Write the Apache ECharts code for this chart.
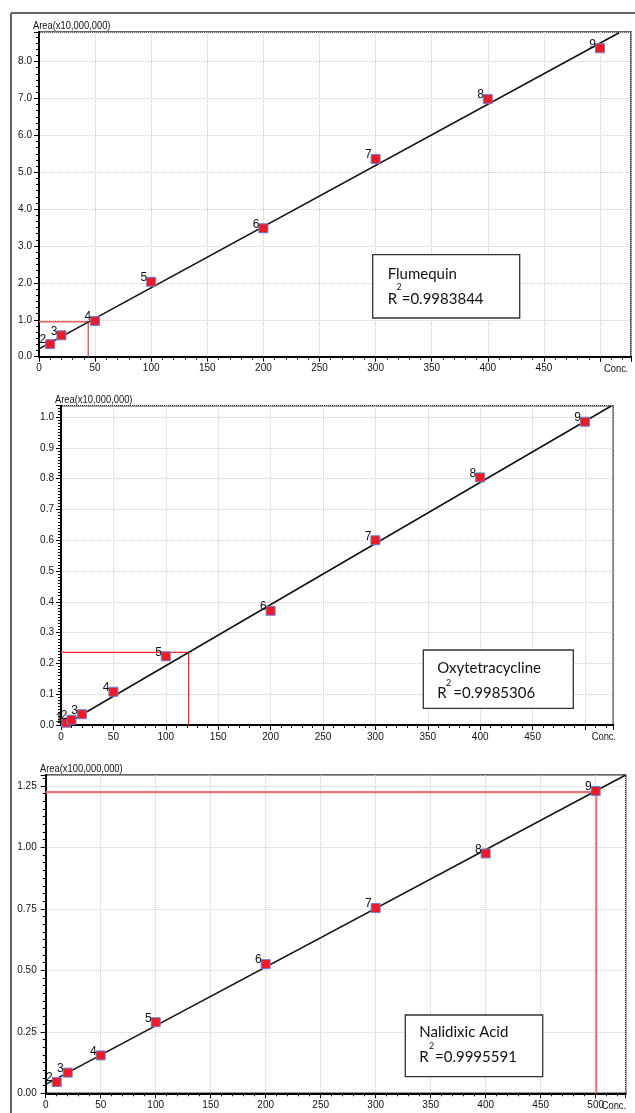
<!DOCTYPE html>
<html><head><meta charset="utf-8">
<script src="https://cdn.jsdelivr.net/npm/echarts@6/dist/echarts.min.js"></script>
<style>html,body{margin:0;padding:0;background:#fff}#c{width:635px;height:1113px}</style>
</head><body><div id="c"></div>
<script>
// ---- data ----
const conc1 = [10, 20, 50, 100, 200, 300, 400, 500];
const area1 = [0.34, 0.58, 0.97, 2.03, 3.48, 5.36, 6.98, 8.36];
const lab1 = ['2', '3', '4', '5', '6', '7', '8', '9'];
const fit1 = [[0, 0.21], [517, 8.78]];
const ref1 = [43.9, 0.95];

const conc2 = [5, 10, 20, 50, 100, 200, 300, 400, 500];
const area2 = [0.0075, 0.017, 0.035, 0.108, 0.223, 0.371, 0.600, 0.804, 0.985];
const lab2 = ['1', '2', '3', '4', '5', '6', '7', '8', '9'];
const fit2 = [[3, 0.0], [525, 1.036]];
const ref2 = [121.8, 0.236];

const conc3 = [10, 20, 50, 100, 200, 300, 400, 500];
const area3 = [0.046, 0.084, 0.154, 0.289, 0.525, 0.753, 0.975, 1.229];
const lab3 = ['2', '3', '4', '5', '6', '7', '8', '9'];
const fit3 = [[0, 0.036], [527.3, 1.294]];
const ref3 = [500.6, 1.224];

const xTicks12 = [0, 50, 100, 150, 200, 250, 300, 350, 400, 450];
const xTicks3 = [0, 50, 100, 150, 200, 250, 300, 350, 400, 450, 500];
const names = ['Flumequin', 'Oxytetracycline', 'Nalidixic Acid'];
const r2 = ['0.9983844', '0.9985306', '0.9995591'];
const yTitles = ['Area(x10,000,000)', 'Area(x10,000,000)', 'Area(x100,000,000)'];
const xName = 'Conc.';

// ---- chart ----
const SANS = '"Liberation Sans",Arial,sans-serif';
const chart = echarts.init(document.getElementById('c'), null, {renderer: 'canvas'});

const grids = [
  {left: 39, top: 32, width: 592, height: 324.7},
  {left: 61, top: 405.7, width: 552.3, height: 319.3},
  {left: 45.7, top: 775, width: 580, height: 318.3}
].map(g => Object.assign(g, {show: true, borderColor: '#333', borderWidth: 1.5, backgroundColor: 'transparent', containLabel: false}));

function xAx(i, max, ticks, margin) {
  return {
    type: 'value', gridIndex: i, min: 0, max: max, interval: 50,
    axisLine: {show: true, onZero: false, lineStyle: {color: '#000', width: 2}},
    axisTick: {show: true, length: 5, lineStyle: {color: '#000', width: 1}},
    minorTick: {show: true, splitNumber: 5, length: 3, lineStyle: {color: '#000', width: 1}},
    splitLine: {show: true, lineStyle: {color: '#cdcdcd', type: 'dotted', width: 1}},
    axisLabel: {margin: margin, fontSize: 10, color: '#111', fontFamily: SANS, showMaxLabel: false,
      formatter: v => ticks.indexOf(Math.round(v)) >= 0 && Math.abs(v - Math.round(v)) < 1e-6 ? String(Math.round(v)) : ''}
  };
}
function yAx(i, max, interval, dec, minorSplit, margin) {
  return {
    type: 'value', gridIndex: i, min: 0, max: max, interval: interval,
    axisLine: {show: true, onZero: false, lineStyle: {color: '#000', width: 2}},
    axisTick: {show: true, length: 5, lineStyle: {color: '#000', width: 1}},
    minorTick: {show: true, splitNumber: minorSplit, length: 3, lineStyle: {color: '#000', width: 1}},
    splitLine: {show: true, lineStyle: {color: '#cdcdcd', type: 'dotted', width: 1}},
    axisLabel: {margin: margin, fontSize: 10, color: '#111', fontFamily: SANS, showMaxLabel: false,
      formatter: v => v.toFixed(dec)}
  };
}

function pts(c, a) { return c.map((x, k) => [x, a[k]]); }
function scatter(i, c, a, labs) {
  return {
    type: 'scatter', xAxisIndex: i, yAxisIndex: i, data: pts(c, a), z: 5,
    symbol: 'rect', symbolSize: 9,
    itemStyle: {color: '#ee1b24', borderColor: '#6b7fd6', borderWidth: 1, opacity: 1},
    label: {show: true, position: 'left', distance: 0, offset: [1, -4], fontSize: 12, color: '#111',
      fontFamily: SANS, formatter: p => labs[p.dataIndex]},
    emphasis: {disabled: true}, silent: true
  };
}
function fitLine(i, f) {
  return {type: 'line', xAxisIndex: i, yAxisIndex: i, data: f, symbol: 'none', z: 4,
    lineStyle: {color: '#111', width: 1.5}, silent: true, animation: false};
}
function refLine(i, r, color, w) {
  return {type: 'line', xAxisIndex: i, yAxisIndex: i, data: [[0, r[1]], [r[0], r[1]], [r[0], 0]],
    symbol: 'none', z: 3, lineStyle: {color: color, width: w}, silent: true, animation: false};
}

// legend-box and text helpers (layout only)
const CAL = '"Lato","Open Sans",sans-serif';
function box(x1, y1, x2, y2) {
  return {type: 'rect', shape: {x: x1, y: y1, width: x2 - x1, height: y2 - y1}, z: 20,
    style: {fill: '#fff', stroke: '#333', lineWidth: 1.3}};
}
function txt(t, x, y, font, align, sx) {
  return {type: 'text', x: x, y: y, z: 21, scaleX: sx || 1,
    style: {text: t, font: font, fill: '#111', textAlign: align || 'left', textVerticalAlign: 'middle'}};
}
// positions given as text baselines; middle = baseline - 5 for the 15px font
function legend(k, bx, nameX, nameBase, rBase, supX, supY, eqX) {
  return [
    box(bx[0], bx[1], bx[2], bx[3]),
    txt(names[k], nameX, nameBase - 5, '15px ' + CAL),
    txt('R', nameX, rBase - 5, '15px ' + CAL),
    txt('2', supX, supY, '9px ' + CAL, 'center'),
    txt('=' + r2[k], eqX, rBase - 5, '15px ' + CAL)
  ];
}

const graphic = [
  {type: 'line', shape: {x1: 11, y1: 13, x2: 11, y2: 1113}, style: {stroke: '#666', lineWidth: 2}, z: 1},
  {type: 'line', shape: {x1: 11, y1: 13, x2: 635, y2: 13}, style: {stroke: '#666', lineWidth: 2}, z: 1},
  txt(yTitles[0], 33, 26, '11px ' + SANS, 'left', 0.85),
  txt(yTitles[1], 55, 400, '11px ' + SANS, 'left', 0.85),
  txt(yTitles[2], 40, 769.3, '11px ' + SANS, 'left', 0.85),
  txt(xName, 604, 369, '11px ' + SANS, 'left', 0.85),
  txt(xName, 591.7, 737.3, '11px ' + SANS, 'left', 0.85),
  txt(xName, 601.7, 1105.7, '11px ' + SANS, 'left', 0.85)
].concat(
  legend(0, [372.7, 254.7, 519.7, 318], 387.7, 279, 304, 399, 287.3, 401.7),
  legend(1, [423.3, 650, 573.3, 708.3], 437.3, 673.3, 697.7, 448.7, 682.7, 453.3),
  legend(2, [405.3, 1015, 542.7, 1076.7], 419.3, 1037.3, 1061.7, 431.7, 1046, 435)
);

chart.setOption({
  animation: false,
  backgroundColor: '#fff',
  grid: grids,
  xAxis: [xAx(0, 527.6, xTicks12, 7), xAx(1, 527, xTicks12, 7), xAx(2, 527.3, xTicks3, 7)],
  yAxis: [yAx(0, 8.8, 1, 1, 6, 7), yAx(1, 1.037, 0.1, 1, 10, 7), yAx(2, 1.294, 0.25, 2, 8, 9)],
  series: [
    refLine(0, ref1, '#f0605a', 1.5), fitLine(0, fit1), scatter(0, conc1, area1, lab1),
    refLine(1, ref2, '#ff2a2a', 1.3), fitLine(1, fit2), scatter(1, conc2, area2, lab2),
    refLine(2, ref3, '#f07272', 2.2), fitLine(2, fit3), scatter(2, conc3, area3, lab3)
  ],
  graphic: graphic
});
</script></body></html>
